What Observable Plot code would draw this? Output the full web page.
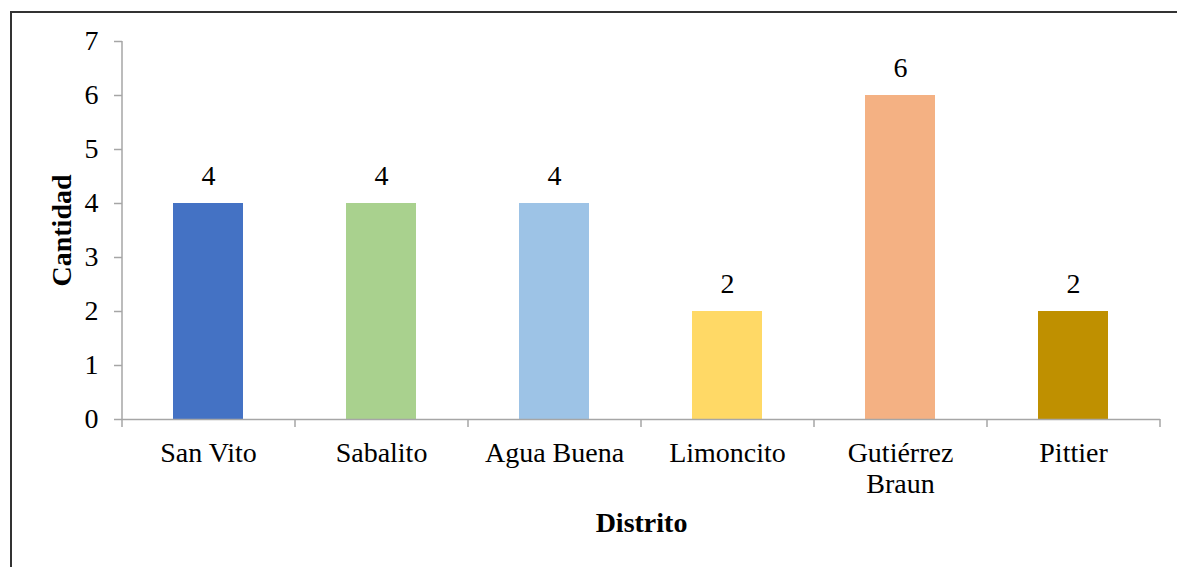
<!DOCTYPE html>
<html>
<head>
<meta charset="utf-8">
<script src="https://cdn.jsdelivr.net/npm/d3@7"></script>
<script src="https://cdn.jsdelivr.net/npm/@observablehq/plot@0.6"></script>
<style>
  html, body { margin: 0; padding: 0; background: #fff; }
  #wrap { position: relative; width: 1177px; height: 567px; overflow: hidden; }
  #wrap svg, #wrap svg text { font-family: "Liberation Serif", "Times New Roman", serif !important; }
  #border { position: absolute; left: 10px; top: 11px; width: 1200px; height: 600px;
            border-left: 2px solid #333; border-top: 2px solid #333; pointer-events: none; }
</style>
</head>
<body>
<div id="wrap"><div id="border"></div></div>
<script>
const categories = ["San Vito", "Sabalito", "Agua Buena", "Limoncito", "Gutiérrez Braun", "Pittier"];
const tickLabels = ["San Vito", "Sabalito", "Agua Buena", "Limoncito", "Gutiérrez\nBraun", "Pittier"];
const values = [4, 4, 4, 2, 6, 2];
const colors = ["#4472c4", "#a9d18e", "#9dc3e6", "#ffd966", "#f4b183", "#bf9000"];
const yTicks = [0, 1, 2, 3, 4, 5, 6, 7];
const xTitle = "Distrito";
const yTitle = "Cantidad";

const data = categories.map((c, i) => ({cat: c, value: values[i]}));

const W = 1177, H = 567, mL = 122, mR = 17, mT = 41, mB = 148;
const step = (W - mL - mR) / categories.length;
const gray = "#a6a6a6";
const font = "Liberation Serif";
const fs = 28;

const chart = Plot.plot({
  width: W, height: H,
  marginLeft: mL, marginRight: mR, marginTop: mT, marginBottom: mB,
  style: {fontFamily: font, fontSize: fs + "px", background: "white", color: "black", overflow: "visible"},
  x: {domain: categories, paddingInner: 0.595, paddingOuter: 0.2975},
  y: {domain: [0, 7]},
  color: {domain: categories, range: colors},
  marks: [
    Plot.barY(data, {x: "cat", y: "value", fill: "cat"}),
    Plot.ruleY([0], {stroke: gray, strokeWidth: 1.5}),
    Plot.ruleX([categories[0]], {x: d => d, y1: 0, y2: 7, dx: -step / 2, stroke: gray, strokeWidth: 1.5}),
    Plot.ruleX(categories, {x: d => d, y1: 0, y2: 0, insetBottom: -8, dx: -step / 2, stroke: gray, strokeWidth: 1.5}),
    Plot.ruleX([categories[categories.length - 1]], {x: d => d, y1: 0, y2: 0, insetBottom: -8, dx: step / 2, stroke: gray, strokeWidth: 1.5}),
    Plot.axisY({ticks: yTicks, tickSize: 8, tickPadding: 16, stroke: gray, strokeWidth: 1.5, fill: "black", fontSize: fs, fontFamily: font, tickFormat: d => String(d), label: null}),
    Plot.axisX({tickSize: 0, tickPadding: 20, fill: "black", fontSize: fs, fontFamily: font, lineHeight: 1.12,
                tickFormat: d => tickLabels[categories.indexOf(d)], label: null}),
    Plot.text(data, {x: "cat", y: "value", text: d => String(d.value), dy: -19, lineAnchor: "bottom", fontSize: fs, fontFamily: font, fill: "black"}),
    Plot.text([xTitle], {frameAnchor: "bottom", dy: 104, text: d => d, textAnchor: "middle", fontWeight: "bold", fontSize: fs, fontFamily: font, lineAnchor: "middle", fill: "black"}),
    Plot.text([yTitle], {frameAnchor: "left", dx: -60, rotate: -90, text: d => d, textAnchor: "middle", fontWeight: "bold", fontSize: fs, fontFamily: font, lineAnchor: "middle", fill: "black"})
  ]
});
document.getElementById("wrap").insertBefore(chart, document.getElementById("border"));
</script>
</body>
</html>
